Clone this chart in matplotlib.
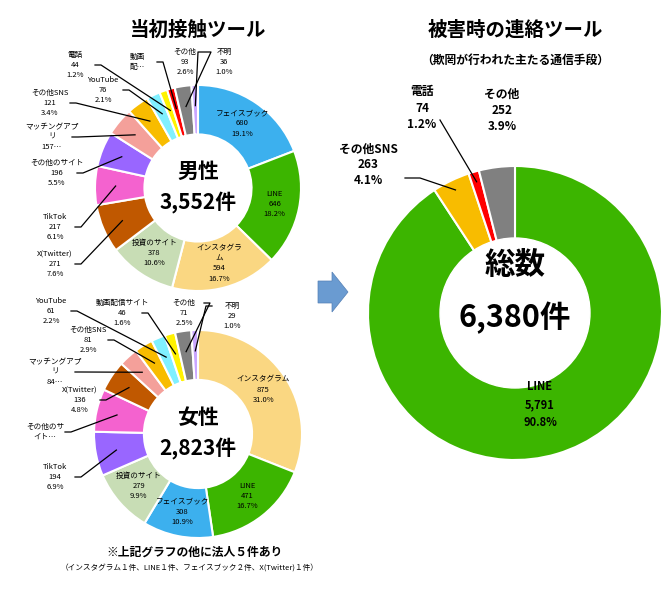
import numpy as np
import matplotlib.pyplot as plt
from matplotlib.patches import Circle, FancyArrow

plt.rcParams['font.family'] = 'Noto Sans CJK JP'

W, H = 666, 592

# 男性
male_labels = ['フェイスブック', 'LINE', 'インスタグラ\nム', '投資のサイト', 'X(Twitter)', 'TikTok',
               'その他のサイト', 'マッチングアプ\nリ', 'その他SNS', 'YouTube', '電話', '動画\n配…', 'その他', '不明']
male_values = [680, 646, 594, 378, 271, 217, 196, 157, 121, 76, 44, 43, 93, 36]
male_pct = ['19.1%', '18.2%', '16.7%', '10.6%', '7.6%', '6.1%', '5.5%', '', '3.4%', '2.1%', '1.2%', '', '2.6%', '1.0%']
male_colors = ['#3CB0EE', '#3CB500', '#FAD782', '#C8DDB5', '#C05800', '#F462CF', '#9966FF',
               '#F4A09A', '#F8BC00', '#80F0FF', '#FFF200', '#FF0000', '#808080', '#C9A5FF']

# 女性
female_labels = ['インスタグラム', 'LINE', 'フェイスブック', '投資のサイト', 'TikTok', 'その他のサ\nイト…',
                 'X(Twitter)', 'マッチングアプ\nリ', 'その他SNS', 'YouTube', '動画配信サイト', 'その他', '不明']
female_values = [875, 471, 308, 279, 194, 188, 136, 84, 81, 61, 46, 71, 29]
female_pct = ['31.0%', '16.7%', '10.9%', '9.9%', '6.9%', '', '4.8%', '', '2.9%', '2.2%', '1.6%', '2.5%', '1.0%']
female_colors = ['#FAD782', '#3CB500', '#3CB0EE', '#C8DDB5', '#9966FF', '#F462CF', '#C05800',
                 '#F4A09A', '#F8BC00', '#80F0FF', '#FFF200', '#808080', '#C9A5FF']

# 被害時の連絡ツール
total_labels = ['LINE', 'その他SNS', '電話', 'その他']
total_values = [5791, 263, 74, 252]
total_pct = ['90.8%', '4.1%', '1.2%', '3.9%']
total_colors = ['#3CB500', '#F8BC00', '#FF0000', '#808080']

fig = plt.figure(figsize=(W / 100, H / 100), dpi=100)
ax = fig.add_axes([0, 0, 1, 1])
ax.axis('off')


def py(y):
    return H - y


def fmt(v):
    return f'{v:,}'


def label_text(name, value, pct):
    if name.endswith('…'):
        return name
    if not pct:
        return f'{name}\n{value}…'
    return f'{name}\n{value}\n{pct}'


def donut(cx, cy, r, values, colors, labels, pcts, n_inside, outside_pos, title, total):
    wedges, _ = ax.pie(values, colors=colors, startangle=90, counterclock=False, center=(cx, py(cy)),
                       radius=r, wedgeprops=dict(width=r * 0.48, edgecolor='white', linewidth=1.5), frame=True)
    for i, w in enumerate(wedges):
        ang = np.deg2rad((w.theta1 + w.theta2) / 2)
        txt = label_text(labels[i], values[i], pcts[i])
        if i < n_inside:
            rr = r * 0.76
            x, y = cx + rr * np.cos(ang), py(cy) + rr * np.sin(ang)
            ax.text(x, y, txt, ha='center', va='center', fontsize=5.5, linespacing=1.35)
        else:
            lx, ly = outside_pos[i - n_inside]
            ax.text(lx, py(ly), txt, ha='center', va='center', fontsize=5.5, linespacing=1.35)
            rr = r * 0.8
            x, y = cx + rr * np.cos(ang), py(cy) + rr * np.sin(ang)
            sx = lx + (20 if lx < cx else -20)
            sy = py(ly) if lx < cx - 60 else py(ly) + 10
            ax.plot([sx, sx + (6 if lx < cx else -6), x], [sy, sy, y], color='black', lw=0.9)
    ax.text(cx, py(cy - 17), title, ha='center', va='center', fontsize=15, fontweight='bold')
    ax.text(cx, py(cy + 15), total, ha='center', va='center', fontsize=15, fontweight='bold')


male_out = [(55, 264), (55, 227), (57, 173), (52, 137), (50, 103), (103, 90), (75, 65), (137, 62), (185, 62), (224, 62)]
donut(198, 188, 103, male_values, male_colors, male_labels, male_pct, 4, male_out, '男性', '3,552件')

female_out = [(55, 477), (45, 432), (80, 400), (55, 372), (88, 340), (51, 311), (122, 313), (184, 313), (232, 316)]
donut(198, 434, 104, female_values, female_colors, female_labels, female_pct, 4, female_out, '女性', '2,823件')

# 右の円グラフ
cx, cy, r = 515, 313, 147
wedges, _ = ax.pie(total_values, colors=total_colors, startangle=90, counterclock=False,
                   center=(cx, py(cy)), radius=r, wedgeprops=dict(edgecolor='white', linewidth=1.5), frame=True)
ax.add_patch(Circle((cx, py(cy)), 75, color='white', zorder=3))
ax.text(cx, py(265), '総数', ha='center', va='center', fontsize=22, fontweight='bold', zorder=4)
ax.text(cx, py(318), '6,380件', ha='center', va='center', fontsize=22, fontweight='bold', zorder=4)
ax.text(540, py(405), f'{total_labels[0]}\n{fmt(total_values[0])}\n{total_pct[0]}', ha='center', va='center',
        fontsize=8, fontweight='bold', linespacing=1.5)
total_out = [(368, 165), (422, 108), (502, 110)]
for i, (lx, ly) in enumerate(total_out, start=1):
    ax.text(lx, py(ly), f'{total_labels[i]}\n{fmt(total_values[i])}\n{total_pct[i]}', ha='center', va='center',
            fontsize=8.5, fontweight='bold', linespacing=1.3)
    w = wedges[i]
    ang = np.deg2rad((w.theta1 + w.theta2) / 2)
    x, y = cx + r * 0.93 * np.cos(ang), py(cy) + r * 0.93 * np.sin(ang)
    if i == 1:
        ax.plot([405, 420, x], [py(178), py(178), y], color='black', lw=0.9)
    elif i == 2:
        ax.plot([440, x], [py(120), y], color='black', lw=0.9)

ax.set_xlim(0, W)
ax.set_ylim(0, H)
ax.set_aspect('equal')

ax.add_patch(FancyArrow(318, py(292), 14, 0, width=22, head_width=40, head_length=16,
                        color='#6A9BD1', ec='#5580B5', lw=0.5))

ax.text(198, py(30), '当初接触ツール', ha='center', va='center', fontsize=14, fontweight='bold')
ax.text(515, py(30), '被害時の連絡ツール', ha='center', va='center', fontsize=14, fontweight='bold')
ax.text(515, py(60), '（欺罔が行われた主たる通信手段）', ha='center', va='center', fontsize=8.5, fontweight='bold')
ax.text(195, py(552), '※上記グラフの他に法人５件あり', ha='center', va='center', fontsize=8.5, fontweight='bold')
ax.text(190, py(568), '（インスタグラム１件、LINE１件、フェイスブック２件、X(Twitter)１件）', ha='center', va='center',
        fontsize=5.5)

fig.savefig('out.png', dpi=100)
